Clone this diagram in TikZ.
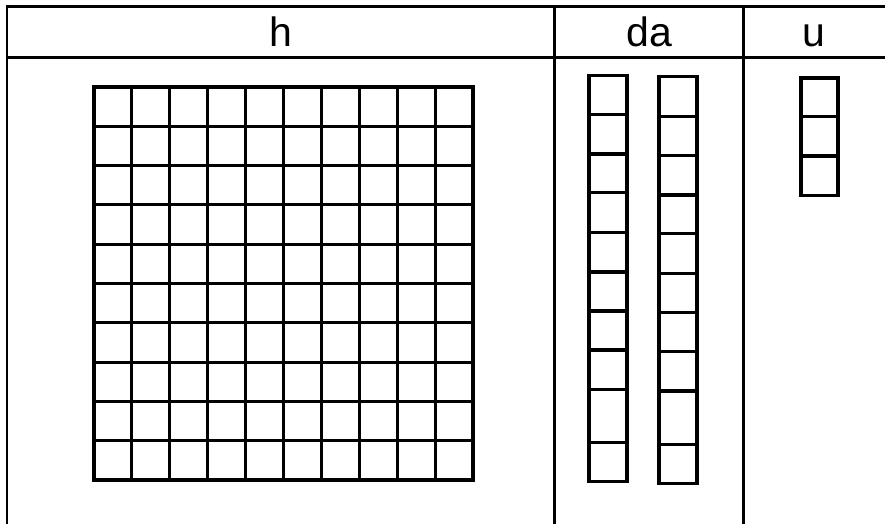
\documentclass[tikz,border=0pt]{standalone}
\usepackage{fontspec}
\setmainfont{Liberation Sans}
\begin{document}
\begin{tikzpicture}[x=1pt,y=-1pt,
  rule/.style={line width=2.8pt},
  cell/.style={line width=3.1pt},
  gridline/.style={line width=3.1pt, line cap=rect},
  head/.style={font=\fontsize{41}{41}\selectfont, inner sep=0pt, anchor=base}]
\useasboundingbox (0,0) rectangle (885,524);
% table frame
\draw[rule] (7,6.7) -- (885,6.7);
\draw[rule] (7,57.5) -- (885,57.5);
\draw[rule] (7,5.3) -- (7,524);
\draw[rule] (554.7,6.7) -- (554.7,524);
\draw[rule] (743.7,6.7) -- (743.7,524);
% headers
\node[head] (hh) at (281,46.5) {h};
\node[head] (hda) at (649,46.5) {da};
\node[head] (hu) at (814,46.5) {u};
% hundred grid
\foreach \i in {0,...,10} {
  \draw[gridline] ({94+37.9*\i},87) -- ({94+37.9*\i},480);
  \draw[gridline] (94,{87+39.3*\i}) -- (473,{87+39.3*\i});
}
% tens rod 1
\draw[cell] (589,75.7) rectangle (627,481.7);
\foreach \y in {114.7,154,192.7,232.7,272,311,350,389.7,442.7}
  \draw[cell] (589,\y) -- (627,\y);
% tens rod 2
\draw[cell] (659,76.7) rectangle (697,483.7);
\foreach \y in {116.7,155.7,195,233.7,273.7,312.7,351.7,391,444.3}
  \draw[cell] (659,\y) -- (697,\y);
% units
\draw[cell] (801,78) rectangle (838,195.7);
\foreach \y in {116.7,156}
  \draw[cell] (801,\y) -- (838,\y);
\end{tikzpicture}
\end{document}
